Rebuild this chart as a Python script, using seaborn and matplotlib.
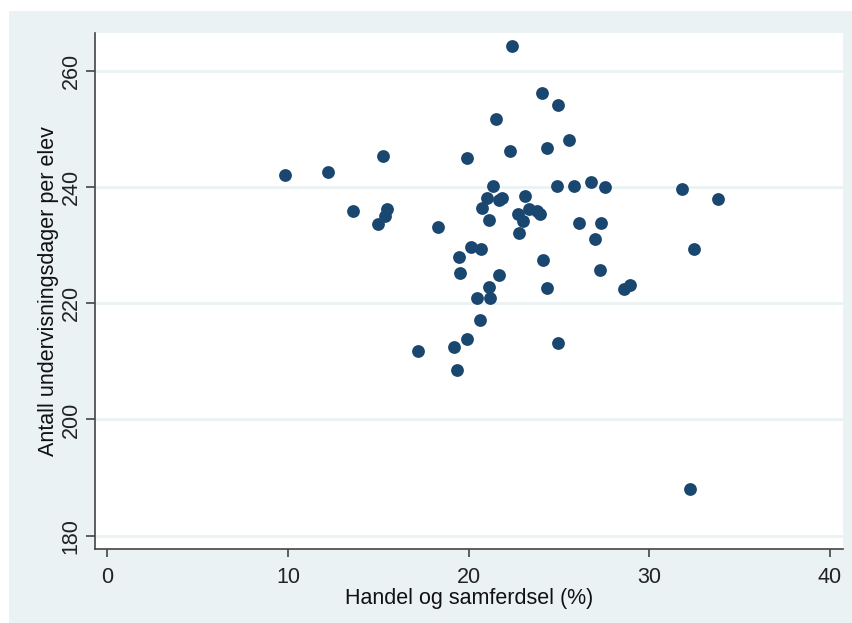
import matplotlib
matplotlib.use("Agg")
import matplotlib.pyplot as plt
import seaborn as sns
import pandas as pd
from matplotlib.patches import Rectangle

# Data
handel = [9.85, 12.2, 13.62, 15.26, 15.47, 15.36, 15.0, 18.33, 17.2, 19.21,
          19.35, 19.9, 20.65, 20.47, 21.19, 21.12, 19.55, 19.47, 20.12, 20.69,
          21.67, 24.13, 24.35, 24.98, 19.92, 21.54, 22.43, 22.28, 24.07, 24.94,
          24.37, 25.57, 21.34, 21.0, 21.7, 21.85, 20.72, 21.15, 23.11, 22.76,
          23.04, 23.37, 23.78, 23.96, 22.8, 24.92, 25.85, 26.8, 27.58, 31.83,
          33.82, 26.14, 27.34, 26.99, 27.3, 28.6, 28.95, 32.51, 32.27]
dager = [242.1, 242.65, 235.9, 245.4, 236.2, 235.1, 233.7, 233.2, 211.8, 212.4,
         208.5, 213.9, 217.2, 221.0, 221.0, 222.8, 225.2, 228.0, 229.7, 229.3,
         224.8, 227.5, 222.6, 213.1, 245.0, 251.8, 264.3, 246.3, 256.2, 254.1,
         246.8, 248.2, 240.2, 238.2, 237.8, 238.2, 236.4, 234.4, 238.4, 235.3,
         234.1, 236.2, 235.9, 235.4, 232.1, 240.2, 240.2, 240.9, 240.1, 239.7,
         237.9, 233.9, 233.9, 231.1, 225.8, 222.5, 223.1, 229.4, 188.0]
x_ticks = [0, 10, 20, 30, 40]
y_ticks = [180, 200, 220, 240, 260]
x_title = "Handel og samferdsel (%)"
y_title = "Antall undervisningsdager per elev"

df = pd.DataFrame({"x": handel, "y": dager})

sns.set_theme(style="white")
plt.rcParams["font.family"] = ["Liberation Sans", "DejaVu Sans"]

W, H = 852, 623
fig = plt.figure(figsize=(W / 100, H / 100), dpi=100, facecolor="white")
# outer graph region
bg = Rectangle((9 / W, 0), 1 - 9 / W, 1 - 11 / H,
               transform=fig.transFigure, facecolor="#EAF2F3",
               edgecolor="none", zorder=-10)
fig.patches.append(bg)

left, right, top, bottom = 95, 843, 32.7, 549
ax = fig.add_axes([left / W, 1 - bottom / H, (right - left) / W, (bottom - top) / H])
ax.set_zorder(1)
ax.set_facecolor("white")

sns.scatterplot(data=df, x="x", y="y", ax=ax, color="#1A476F", s=85,
                linewidth=0, zorder=3)

ax.set_xlim(-0.69, 40.74)
ax.set_ylim(177.7, 266.6)
ax.set_xticks(x_ticks)
ax.set_yticks(y_ticks)
ax.set_xticklabels([str(t) for t in x_ticks], fontsize=15.5, color="#222222")
ax.set_yticklabels([str(t) for t in y_ticks], fontsize=15.5, color="#222222",
                   rotation=90, va="center")
ax.grid(axis="y", color="#EAF2F3", linewidth=2)
ax.grid(axis="x", visible=False)
ax.set_axisbelow(True)

for s in ["top", "right"]:
    ax.spines[s].set_visible(False)
for s in ["left", "bottom"]:
    ax.spines[s].set_color("#444444")
    ax.spines[s].set_linewidth(1.2)

ax.tick_params(axis="x", direction="out", length=6, width=1.2, color="#444444",
               pad=7, bottom=True)
ax.tick_params(axis="y", direction="out", length=6.5, width=1.2, color="#444444",
               pad=3, left=True)

ax.set_xlabel(x_title, fontsize=15.5, color="#111111", labelpad=0)
ax.set_ylabel(y_title, fontsize=15.5, color="#111111", labelpad=1)

fig.savefig("out.png", dpi=100, facecolor="white")
